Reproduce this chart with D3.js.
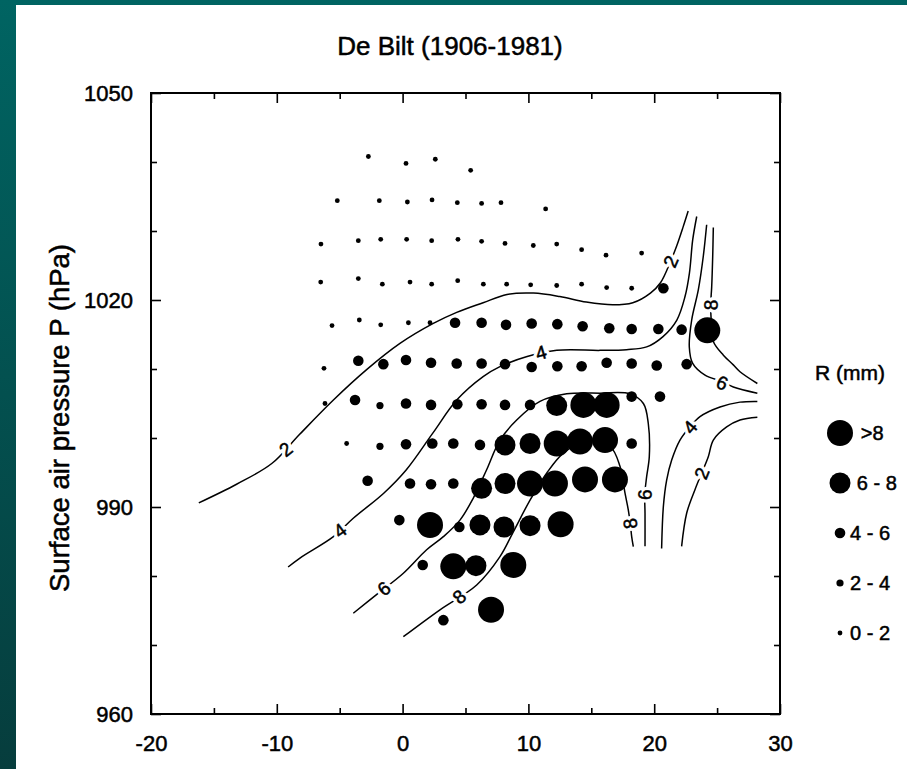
<!DOCTYPE html>
<html><head><meta charset="utf-8">
<script src="https://cdn.jsdelivr.net/npm/d3@7"></script>
<style>
html,body{margin:0;padding:0;background:#fff;}
svg{display:block;font-family:"Liberation Sans",Arial,Helvetica,sans-serif;}
</style>
</head><body>
<svg id="chart" width="907" height="769"></svg>
<script>
// ---------- data ----------
const chartTitle = "De Bilt (1906-1981)";
const yAxisTitle = "Surface air pressure P (hPa)";
const xMajorTicks = [-20, -10, 0, 10, 20, 30];
const xMinorTicks = [-15, -5, 5, 15, 25];
const yMajorTicks = [960, 990, 1020, 1050];
const yMinorTicks = [970, 980, 1000, 1010, 1030, 1040];

// dots: temperature (x), pressure (y), rainfall class value R (mm)
const tempX = [
  -2.72, 0.27, 2.60, 5.41,
  -5.19, -1.85, 0.38, 2.34, 4.35, 6.28, 7.82, 11.37,
  -6.49, -3.52, -1.74, 0.32, 2.31, 4.40, 6.28, 8.14, 10.39, 12.25, 14.23, 16.17, 19.00,
  -6.51, -3.52, -1.61, 0.59, 2.31, 4.38, 6.42, 8.27, 10.18, 12.25, 14.23, 16.22, 18.21, 20.73,
  -5.61, -3.44, -1.74, 0.46, 2.18, 4.17, 6.28, 8.22, 10.26, 12.30, 14.31, 16.43, 18.21, 20.33, 22.18, 24.22,
  -6.25, -3.52, -1.53, 0.27, 2.26, 4.30, 6.28, 8.14, 10.26, 12.30, 14.23, 16.22, 18.21, 20.20, 22.58,
  -6.17, -3.78, -1.80, 0.27, 2.26, 4.35, 6.28, 8.14, 10.13, 12.25, 14.37, 16.22, 18.21, 20.46,
  -4.45, -1.80, 0.27, 2.36, 4.03, 6.15, 8.14, 10.13, 12.25, 14.10, 16.09, 18.21,
  -2.78, 0.59, 2.26, 4.03, 6.28, 8.14, 10.13, 12.11, 14.50, 16.88,
  -0.26, 2.18, 4.51, 6.15, 8.06, 10.13, 12.56,
  1.60, 4.03, 5.83, 8.80,
  3.24, 7.03
];
const pressureP = [
  1040.8, 1039.8, 1040.4, 1038.8,
  1034.4, 1034.4, 1034.2, 1034.5, 1034.1, 1034.0, 1034.1, 1033.2,
  1028.1, 1028.6, 1028.8, 1028.8, 1028.6, 1028.8, 1028.5, 1028.2, 1027.9, 1028.1, 1027.3, 1026.5, 1026.8,
  1022.6, 1023.1, 1022.3, 1022.6, 1022.3, 1022.8, 1022.3, 1022.3, 1022.2, 1022.1, 1022.3, 1021.8, 1021.7, 1021.7,
  1016.3, 1017.1, 1016.4, 1016.7, 1016.7, 1016.7, 1016.7, 1016.4, 1016.6, 1016.5, 1016.2, 1015.9, 1015.8, 1015.8, 1015.7, 1015.6,
  1010.1, 1011.2, 1010.7, 1011.3, 1010.9, 1010.8, 1010.8, 1010.7, 1010.3, 1010.4, 1010.4, 1010.9, 1010.8, 1010.5, 1010.7,
  1005.0, 1005.5, 1004.7, 1005.0, 1004.8, 1004.9, 1004.9, 1004.8, 1004.8, 1004.7, 1004.8, 1004.8, 1006.0, 1006.0,
  999.2, 998.8, 999.1, 999.2, 999.2, 999.0, 999.0, 999.2, 999.2, 999.5, 999.7, 999.2,
  993.8, 993.4, 993.3, 993.4, 992.7, 993.4, 993.4, 993.4, 994.0, 994.0,
  988.1, 987.4, 987.1, 987.4, 987.1, 987.3, 987.5,
  981.6, 981.4, 981.5, 981.6,
  973.6, 975.1
];
const rainR = [
  1, 1, 1, 1,
  1, 1, 1, 1, 1, 1, 1, 1,
  1, 1, 1, 1, 1, 1, 1, 1, 1, 1, 1, 1, 1,
  1, 1, 1, 1, 1, 1, 1, 1, 1, 1, 1, 1, 1, 5,
  1, 1, 1, 1, 1, 5, 5, 5, 5, 5, 5, 5, 5, 5, 5, 9,
  1, 5, 5, 5, 5, 5, 5, 5, 5, 5, 5, 5, 5, 5, 5,
  1, 5, 3, 5, 5, 5, 5, 5, 5, 7, 9, 9, 5, 5,
  1, 3, 5, 5, 5, 5, 7, 7, 9, 9, 9, 5,
  5, 5, 5, 5, 7, 7, 9, 9, 9, 9,
  5, 9, 5, 7, 7, 7, 9,
  5, 9, 7, 9,
  5, 9
];

// contour lines [T, P]
const contour2Main = [[-16.2,990.6],[-13.2,993.3],[-10.4,996.3],[-8.2,1000.5],[-5.5,1005.5],[-2.86,1009.9],[-0.21,1013.7],[2.44,1016.6],[4.3,1018.2],[6.4,1019.6],[8.3,1020.8],[10.4,1021.0],[12.5,1020.5],[14.6,1019.7],[16.7,1019.3],[18.3,1019.6],[19.7,1021.0],[20.5,1022.5],[21.3,1025.6],[21.8,1027.9],[22.3,1030.6],[22.7,1032.9]];
const contour4Main = [[-9.1,981.3],[-8.16,982.6],[-5.5,985.7],[-3.9,988.4],[-1.5,992.0],[0.3,995.4],[2.4,1000.7],[4.3,1005.5],[6.4,1008.9],[7.7,1010.3],[9.9,1011.8],[12.25,1012.7],[15.7,1012.7],[17.8,1012.8],[19.4,1013.2],[20.7,1014.7],[21.8,1017.1],[22.45,1020.5],[22.8,1023.9],[23.06,1028.7],[23.38,1032.1]];
const contour6Main = [[-3.92,974.6],[-2.0,977.4],[0.06,980.4],[1.91,983.8],[3.24,985.7],[4.56,988.1],[5.62,991.3],[6.68,995.4],[7.74,999.7],[9.07,1002.6],[10.92,1005.3],[13.04,1006.4],[15.69,1006.5],[18.08,1006.4],[19.14,1005.0],[19.53,1002.1],[19.61,997.3],[19.4,994.4],[19.25,991.8],[19.27,989.1],[19.27,984.3]];
const contour8Main = [[0.06,971.2],[2.97,975.1],[5.89,978.7],[7.74,982.8],[8.8,986.4],[10.13,991.0],[11.45,994.9],[12.78,997.8],[14.63,999.7],[16.49,998.8],[17.28,995.9],[17.68,992.0],[17.94,989.6],[18.1,987.6],[18.21,985.7],[18.34,984.25]];
const contour6Saddle = [[24.17,1030.9],[23.9,1026.3],[23.51,1021.5],[22.98,1017.1],[22.79,1013.2],[23.06,1010.8],[24.04,1009.1],[25.36,1008.2],[26.29,1007.4],[28.2,1006.5]];
const contour8Saddle = [[24.7,1030.5],[24.65,1026.3],[24.57,1021.9],[24.49,1019.3],[24.55,1016.5],[24.7,1014.0],[25.5,1012.0],[26.29,1010.6],[26.82,1009.6],[28.2,1007.9]];
const contour4Right = [[28.2,1005.3],[26.82,1005.2],[25.23,1004.5],[23.64,1003.1],[22.84,1001.6],[22.05,999.7],[21.39,996.8],[20.99,993.9],[20.73,990.1],[20.59,984.0]];
const contour2Right = [[28.2,1003.0],[26.82,1002.6],[25.76,1001.6],[24.7,999.7],[24.3,997.3],[23.77,994.9],[23.24,992.5],[22.58,989.1],[22.18,984.3]];

// contour labels: text, position, line they sit on
const labelText = ["2", "2", "4", "4", "6", "6", "6", "8", "8", "8", "4", "2"];
const labelX    = [-9.3, 21.3, -4.98, 11.0, -1.5, 19.25, 25.4, 4.5, 18.08, 24.49, 22.84, 23.77];
const labelP    = [998.4, 1025.6, 986.6, 1012.4, 978.2, 991.8, 1008.0, 977.0, 987.6, 1019.3, 1001.6, 994.9];
const labelLine = [0, 0, 1, 1, 2, 2, 4, 3, 3, 5, 6, 7];

// legend
const legendTitle = "R (mm)";
const legendLabels = [">8", "6 - 8", "4 - 6", "2 - 4", "0 - 2"];
const legendValues = [9, 7, 5, 3, 1];

// ---------- drawing ----------
const W = 907, H = 769;
const svg = d3.select("#chart");
const defs = svg.append("defs");
const grad = defs.append("linearGradient").attr("id", "bg").attr("x1", 0).attr("y1", 0).attr("x2", 0).attr("y2", 1);
grad.append("stop").attr("offset", "0%").attr("stop-color", "#006462");
grad.append("stop").attr("offset", "100%").attr("stop-color", "#063d3d");
svg.append("rect").attr("width", W).attr("height", H).attr("fill", "url(#bg)");
svg.append("rect").attr("x", 16).attr("y", 5).attr("width", W - 16).attr("height", H - 5).attr("fill", "#fff");

const x = d3.scaleLinear().domain([-20, 30]).range([151, 780]);
const y = d3.scaleLinear().domain([960, 1050]).range([714, 93]);
const rScale = d3.scaleThreshold().domain([2, 4, 6, 8]).range([2.4, 3.6, 5.3, 10.5, 13]);

const heavy = sel => sel.attr("fill", "#000").attr("stroke", "#000").attr("stroke-width", 0.5);

function styleAxis(g) {
  g.select(".domain").remove();
  g.selectAll(".tick line").attr("stroke", "#000").attr("stroke-width", 1.6);
  g.selectAll(".tick text").attr("font-size", 22)
    .attr("font-family", '"Liberation Sans", Arial, sans-serif').call(heavy);
}
const fmt = d => String(d);
// bottom
svg.append("g").attr("transform", "translate(0,714)")
  .call(d3.axisBottom(x).tickValues(xMajorTicks).tickSizeInner(-10).tickSizeOuter(0).tickPadding(21).tickFormat(fmt)).call(styleAxis);
svg.append("g").attr("transform", "translate(0,714)")
  .call(d3.axisBottom(x).tickValues(xMinorTicks).tickSizeInner(-6).tickSizeOuter(0).tickFormat("")).call(styleAxis);
// top
svg.append("g").attr("transform", "translate(0,93)")
  .call(d3.axisTop(x).tickValues(xMajorTicks).tickSizeInner(-10).tickSizeOuter(0).tickFormat("")).call(styleAxis);
svg.append("g").attr("transform", "translate(0,93)")
  .call(d3.axisTop(x).tickValues(xMinorTicks).tickSizeInner(-6).tickSizeOuter(0).tickFormat("")).call(styleAxis);
// left
svg.append("g").attr("transform", "translate(151,0)")
  .call(d3.axisLeft(y).tickValues(yMajorTicks).tickSizeInner(-10).tickSizeOuter(0).tickPadding(18).tickFormat(fmt)).call(styleAxis);
svg.append("g").attr("transform", "translate(151,0)")
  .call(d3.axisLeft(y).tickValues(yMinorTicks).tickSizeInner(-6).tickSizeOuter(0).tickFormat("")).call(styleAxis);
// right
svg.append("g").attr("transform", "translate(780,0)")
  .call(d3.axisRight(y).tickValues(yMajorTicks).tickSizeInner(-10).tickSizeOuter(0).tickFormat("")).call(styleAxis);
svg.append("g").attr("transform", "translate(780,0)")
  .call(d3.axisRight(y).tickValues(yMinorTicks).tickSizeInner(-6).tickSizeOuter(0).tickFormat("")).call(styleAxis);

// frame
svg.append("rect").attr("x", x(-20)).attr("y", y(1050))
  .attr("width", x(30) - x(-20)).attr("height", y(960) - y(1050))
  .attr("fill", "none").attr("stroke", "#000").attr("stroke-width", 2);

// contours
const contourSet = [contour2Main, contour4Main, contour6Main, contour8Main, contour6Saddle, contour8Saddle, contour4Right, contour2Right];
const lineGen = d3.line().x(d => x(d[0])).y(d => y(d[1])).curve(d3.curveCatmullRom.alpha(0.5));
svg.append("g").selectAll("path").data(contourSet).join("path")
  .attr("d", lineGen).attr("fill", "none").attr("stroke", "#000").attr("stroke-width", 1.5);

// contour labels
const labels = labelText.map((t, i) => {
  const pts = contourSet[labelLine[i]];
  const px = x(labelX[i]), py = y(labelP[i]);
  let best = 0, bd = Infinity;
  pts.forEach((p, j) => { const d = (x(p[0]) - px) ** 2 + (y(p[1]) - py) ** 2; if (d < bd) { bd = d; best = j; } });
  const a = pts[Math.max(0, best - 1)], b = pts[Math.min(pts.length - 1, best + 1)];
  let ang = Math.atan2(y(b[1]) - y(a[1]), x(b[0]) - x(a[0])) * 180 / Math.PI;
  if (ang > 90) ang -= 180;
  if (ang < -90) ang += 180;
  if (ang > 80) ang -= 180;
  return { t, px, py, ang };
});
const lblG = svg.append("g");
lblG.selectAll("text.halo").data(labels).join("text").attr("class", "halo")
  .attr("transform", d => `translate(${d.px},${d.py}) rotate(${d.ang})`)
  .attr("text-anchor", "middle").attr("dy", "0.36em").attr("font-size", 19)
  .attr("fill", "#fff").attr("stroke", "#fff").attr("stroke-width", 7).attr("stroke-linejoin", "round")
  .text(d => d.t);
lblG.selectAll("text.lbl").data(labels).join("text").attr("class", "lbl")
  .attr("transform", d => `translate(${d.px},${d.py}) rotate(${d.ang})`)
  .attr("text-anchor", "middle").attr("dy", "0.36em").attr("font-size", 19)
  .call(heavy).text(d => d.t);

// dots
const dots = tempX.map((t, i) => ({ t, p: pressureP[i], r: rainR[i] }));
svg.append("g").selectAll("circle").data(dots).join("circle")
  .attr("cx", d => x(d.t)).attr("cy", d => y(d.p)).attr("r", d => rScale(d.r)).attr("fill", "#000");

// title
svg.append("text").attr("x", 450).attr("y", 55).attr("text-anchor", "middle")
  .attr("font-size", 26).call(heavy).text(chartTitle);
// y title
svg.append("text").attr("transform", "translate(69,418) rotate(-90)").attr("text-anchor", "middle")
  .attr("font-size", 27.5).call(heavy).text(yAxisTitle);

// legend
svg.append("text").attr("x", 815).attr("y", 380).attr("font-size", 21).call(heavy).text(legendTitle);
const lg = svg.append("g").selectAll("g").data(legendValues).join("g")
  .attr("transform", (d, i) => `translate(840,${433 + i * 50})`);
lg.append("circle").attr("r", d => rScale(d)).attr("fill", "#000");
lg.append("text").attr("x", d => Math.max(10, rScale(d) * 1.6)).attr("dy", "0.36em")
  .attr("font-size", 20).call(heavy).text((d, i) => legendLabels[i]);
</script>
</body></html>
